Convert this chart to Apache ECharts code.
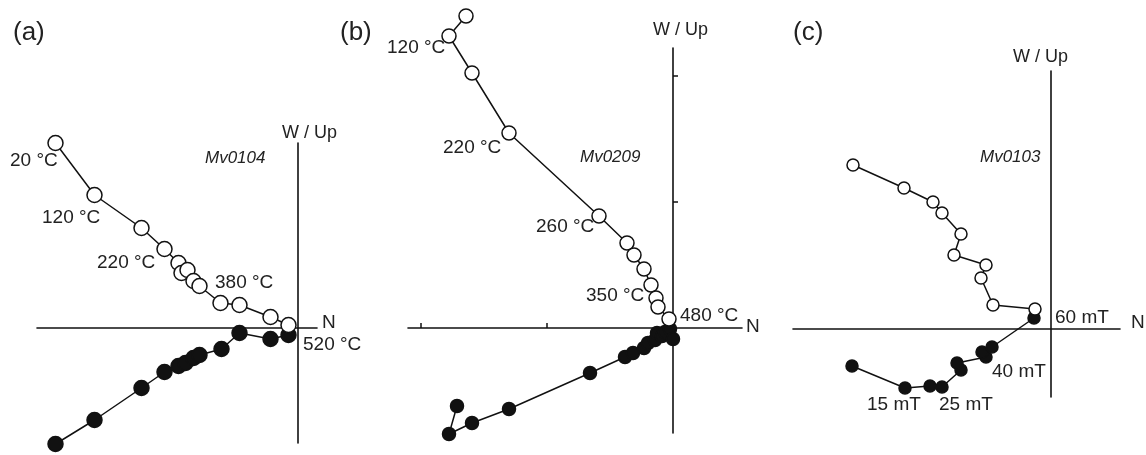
<!DOCTYPE html>
<html>
<head>
<meta charset="utf-8">
<script src="https://cdn.jsdelivr.net/npm/echarts@6/dist/echarts.min.js"></script>
<style>
  html, body { margin: 0; padding: 0; background: #fff; }
  #main { width: 1146px; height: 455px; }
</style>
</head>
<body>
<div id="main"></div>
<script>
// orthogonal (Zijderveld) projections, arbitrary units; [N, W/Up]
// open = vertical plane (Up), filled = horizontal plane (W)
var openA = [[-242,185],[-203,133],[-156,100],[-133,79],[-119,65],[-116,55],[-110,58],[-104,47],[-98,42],[-77,25],[-58,23],[-27,11],[-9,3]];
var filledA = [[-242,-116],[-203,-92],[-156,-60],[-133,-44],[-119,-38],[-112,-35],[-104,-30],[-98,-27],[-76,-21],[-58,-5],[-27,-11],[-9,-7]];

var openB = [[-207,312],[-224,292],[-201,255],[-164,195],[-74,112],[-46,85],[-39,73],[-29,59],[-22,43],[-17,30],[-15,21],[-4,9]];
var filledB = [[-216,-78],[-224,-106],[-201,-95],[-164,-81],[-83,-45],[-48,-29],[-40,-25],[-29,-20],[-25,-15],[-18,-12],[-16,-5],[-11,-8],[-8,-4],[-3,-1],[0,-11]];
var ticksB = [-252, -126, 126, 252];

var openC = [[-198,164],[-147,141],[-118,127],[-109,116],[-90,95],[-97,74],[-65,64],[-70,51],[-58,24],[-16,20]];
var filledC = [[-199,-37],[-146,-59],[-121,-57],[-109,-58],[-90,-41],[-94,-34],[-65,-28],[-69,-23],[-59,-18],[-17,11]];

var samples = ['Mv0104', 'Mv0209', 'Mv0103'];
var panels = ['(a)', '(b)', '(c)'];

var FONT = 'Liberation Sans, Arial, sans-serif';
var INK = '#111';

var chart = echarts.init(document.getElementById('main'));

function axisBase(min, max, ticks) {
  return {
    type: 'value', min: min, max: max,
    axisLine: { show: true, onZero: true, lineStyle: { color: INK, width: 1.6 } },
    axisTick: ticks ? { show: true, inside: true, length: 5, customValues: ticks, lineStyle: { color: INK, width: 1.5 } } : { show: false },
    axisLabel: { show: false },
    splitLine: { show: false }
  };
}

function pts(data, idx, filled, size) {
  return {
    type: 'line', xAxisIndex: idx, yAxisIndex: idx,
    data: data, clip: false, silent: true,
    symbol: 'circle', symbolSize: size, showAllSymbol: true,
    lineStyle: { color: INK, width: 1.5 },
    itemStyle: { color: filled ? INK : '#fff', borderColor: INK, borderWidth: 1.5 },
    z: filled ? 2 : 3
  };
}

function txt(x, y, s, opt) {
  opt = opt || {};
  var size = opt.size || 19;
  return {
    type: 'text', left: x, top: y - size * 0.5,
    style: {
      text: s, fill: '#222', font: (opt.italic ? 'italic ' : '') + size + 'px ' + FONT
    }
  };
}

var option = {
  backgroundColor: '#fff',
  animation: false,
  grid: [
    { left: 37, top: 143, width: 280, height: 300 },
    { left: 408, top: 48, width: 334, height: 385 },
    { left: 793, top: 71, width: 327, height: 326 }
  ],
  xAxis: [
    Object.assign(axisBase(-260.5, 19.5), { gridIndex: 0 }),
    Object.assign(axisBase(-265, 69, ticksB.slice(0, 2)), { gridIndex: 1 }),
    Object.assign(axisBase(-258, 69), { gridIndex: 2 })
  ],
  yAxis: [
    Object.assign(axisBase(-115, 185), { gridIndex: 0 }),
    Object.assign(axisBase(-105, 280, ticksB.slice(2)), { gridIndex: 1 }),
    Object.assign(axisBase(-68, 258), { gridIndex: 2 })
  ],
  series: [
    pts(filledA, 0, true, 15), pts(openA, 0, false, 15),
    pts(filledB, 1, true, 13), pts(openB, 1, false, 14),
    pts(filledC, 2, true, 12), pts(openC, 2, false, 12)
  ],
  graphic: [
    txt(13, 33, panels[0], { size: 26 }),
    txt(340, 33, panels[1], { size: 26 }),
    txt(793, 33, panels[2], { size: 26 }),
    // (a)
    txt(282, 133, 'W / Up', { size: 18 }),
    txt(205, 158, samples[0], { size: 17, italic: true }),
    txt(322, 323, 'N'),
    txt(10, 161, '20 °C'),
    txt(42, 218, '120 °C'),
    txt(97, 263, '220 °C'),
    txt(215, 283, '380 °C'),
    txt(303, 345, '520 °C'),
    // (b)
    txt(653, 30, 'W / Up', { size: 18 }),
    txt(580, 157, samples[1], { size: 17, italic: true }),
    txt(746, 327, 'N'),
    txt(387, 48, '120 °C'),
    txt(443, 148, '220 °C'),
    txt(536, 227, '260 °C'),
    txt(586, 296, '350 °C'),
    txt(680, 316, '480 °C'),
    // (c)
    txt(1013, 57, 'W / Up', { size: 18 }),
    txt(980, 157, samples[2], { size: 17, italic: true }),
    txt(1131, 323, 'N'),
    txt(1055, 318, '60 mT'),
    txt(992, 372, '40 mT'),
    txt(867, 405, '15 mT'),
    txt(939, 405, '25 mT')
  ]
};

chart.setOption(option);
</script>
</body>
</html>
